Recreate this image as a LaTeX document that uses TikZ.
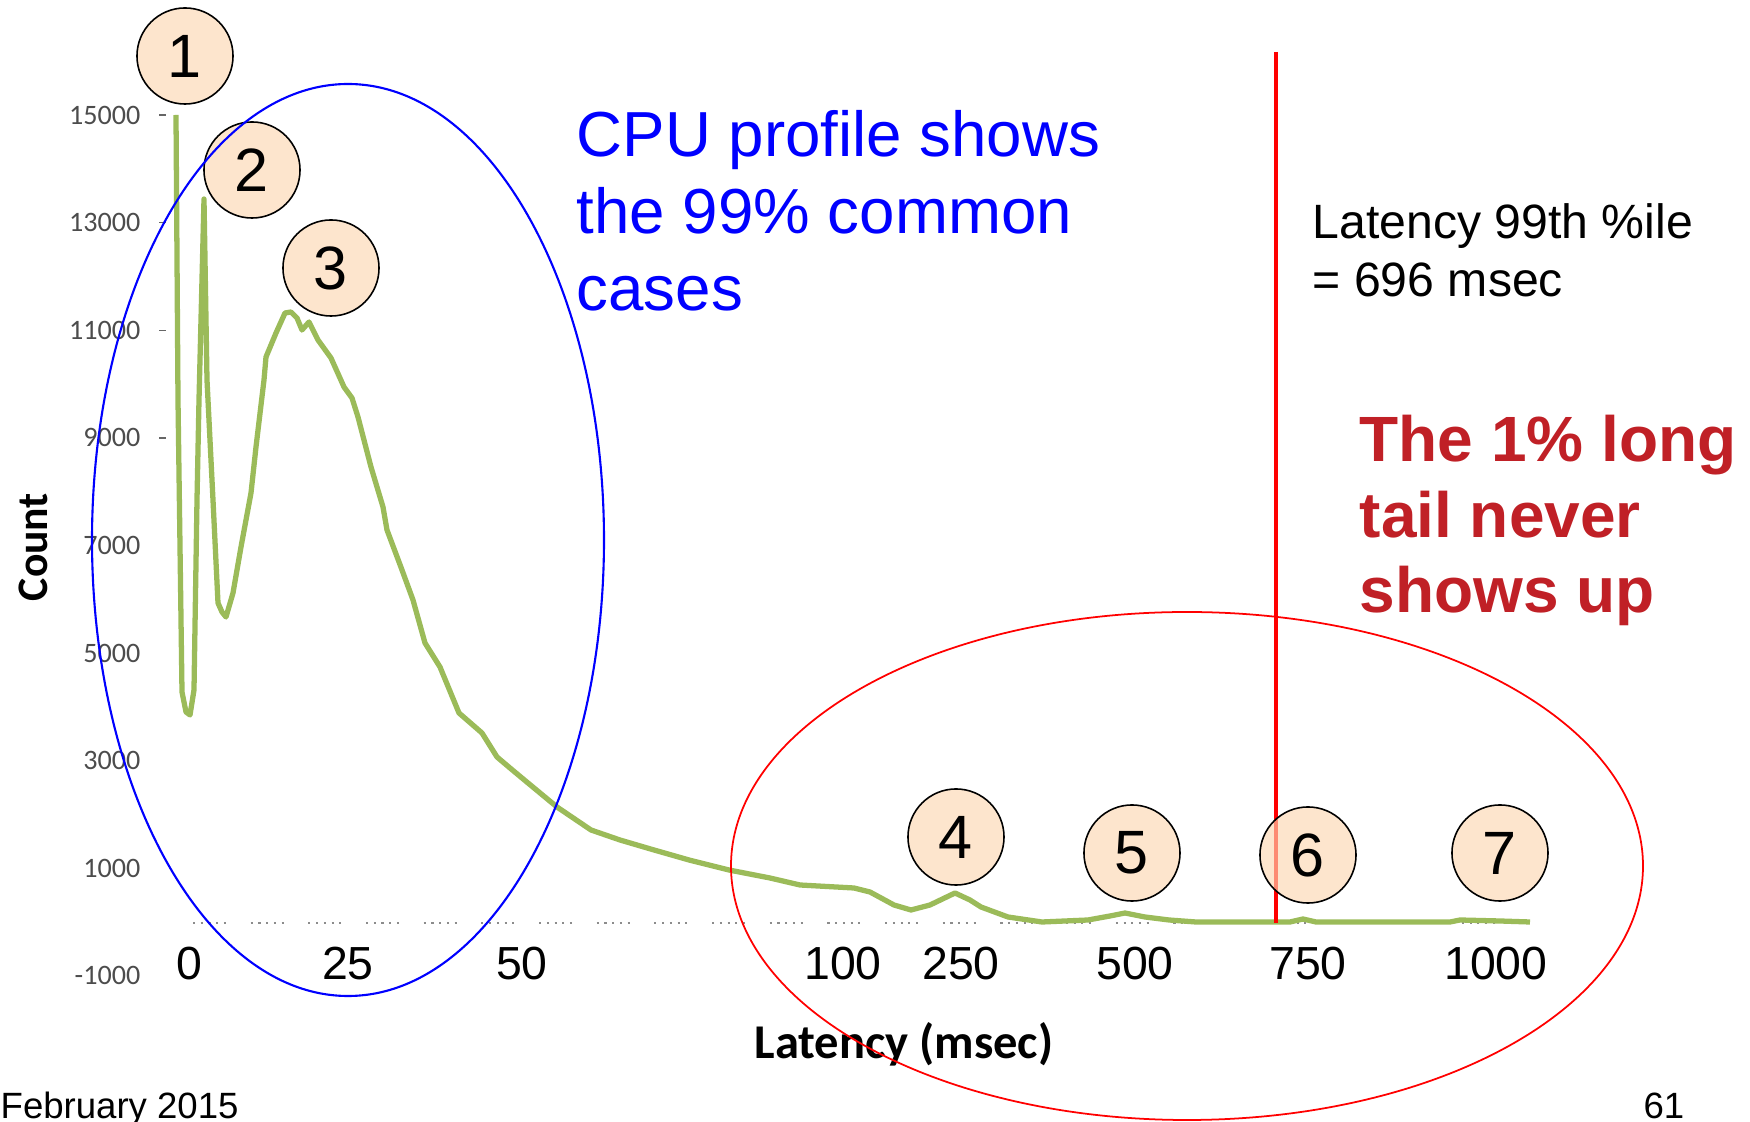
\documentclass[tikz,border=0pt]{standalone}
\usepackage{fontspec}
\setmainfont{Liberation Sans}
\newfontfamily\calibri{Carlito}
\definecolor{plotgreen}{RGB}{155,187,89}
\definecolor{bubblefill}{RGB}{252,215,178}
\definecolor{taildark}{RGB}{192,32,38}

\begin{document}
\begin{tikzpicture}[x=0.01cm, y=-0.01cm,
  bubble/.style={circle, draw=black, line width=0.45pt, fill=bubblefill, fill opacity=0.65, text opacity=1,
    minimum size=0.96cm, inner sep=0pt, font=\fontsize{17.4}{20}\selectfont},
  xlab/.style={anchor=base, font=\fontsize{13.2}{15}\selectfont},
  ylab/.style={anchor=east, inner sep=0pt, text=black!70, font=\calibri\fontsize{8}{9}\selectfont},
  zeroline/.style={black!45, line width=0.5pt,
    dash pattern=on 0.6pt off 1.6pt on 0.6pt off 1.6pt on 0.6pt off 1.6pt on 0.6pt off 1.6pt on 0.6pt off 7pt}]
\useasboundingbox (0,0) rectangle (1750,1122);

% y axis labels and ticks
\foreach \c in {-1000,1000,3000,5000,7000,9000,11000,13000,15000}
    \node[ylab] (ylab\c) at (141, {922-0.05379*\c}) {\c};
\foreach \c in {9000,11000,13000,15000}
    \draw[black!60, line width=0.4pt] (159,{922-0.05379*\c}) -- (166,{922-0.05379*\c});
\node[rotate=90, font=\calibri\bfseries\fontsize{12.4}{14}\selectfont] (countlab) at (33,547) {Count};

% x axis
\draw[zeroline] (193,923) -- (1530,923);
\foreach \xpos/\xtext in {189/0, 348/25, 522/50, 843/100, 961/250, 1135/500, 1308/750, 1496/1000}
    \node[xlab] (xlab\xtext) at (\xpos,980) {\xtext};
\node[anchor=base, font=\calibri\bfseries\fontsize{13.8}{16}\selectfont] (xtitle) at (904,1059) {Latency (msec)};

% latency histogram
\draw[plotgreen, line width=1.5pt, line join=round] plot coordinates {
  (176,115) (178,400) (182,692) (186,712) (190,715) (194,690) (197,500) (199,400) (204,199)
  (207,380) (213,500) (218,603) (222,612) (226,617) (233,593) (241,547) (251,493) (256,447)
  (264,380) (266,357) (276,333) (285,313) (291,312) (297,318) (302,330) (309,322) (318,340)
  (331,358) (344,387) (352,398) (358,417) (371,467) (383,507) (387,530) (402,570) (413,600)
  (425,643) (440,667) (459,713) (482,733) (497,757) (510,768) (528,783) (557,807) (591,830)
  (620,840) (654,850) (689,860) (729,870) (770,878) (800,885) (854,888) (870,892) (894,905)
  (911,910) (930,905) (955,893) (970,900) (981,907) (1008,917) (1042,922) (1088,920) (1110,916)
  (1125,913) (1145,917) (1169,920) (1196,922) (1290,922) (1303,919) (1316,922) (1450,922)
  (1460,920) (1500,921) (1530,922)};

% common cases
\foreach \n/\bx/\by in {1/185/56, 2/252/170, 3/331/268}
    \node[bubble] (bubble\n) at (\bx,\by) {\n};
\draw[blue, line width=0.6pt] (348,540) ellipse [x radius=256, y radius=456];
\node[anchor=north west, inner sep=0pt, align=left, text=blue, font=\fontsize{18.1}{21.9}\selectfont]
    (cpunote) at (576,110) {CPU profile shows\\the 99\% common\\cases};

% 99th percentile cut and long tail
\coordinate (cuttop) at (1276,52);
\coordinate (cutbot) at (1276,923);
\draw[red, line width=1.1pt] (cuttop) -- (cutbot);
\foreach \n/\bx/\by in {4/956/837, 5/1132/853, 6/1308/855, 7/1500/853}
    \node[bubble] (bubble\n) at (\bx,\by) {\n};
\draw[red, line width=0.5pt] (1187,866) ellipse [x radius=456, y radius=254];
\node[anchor=north west, inner sep=0pt, align=left, font=\fontsize{13.7}{16.5}\selectfont]
    (pctnote) at (1312,203) {Latency 99th \%ile\\= 696 msec};
\node[anchor=north west, inner sep=0pt, align=left, text=taildark, font=\bfseries\fontsize{18.2}{21.6}\selectfont]
    (tailnote) at (1359,414) {The 1\% long\\tail never\\shows up};

% footer
\node[anchor=base west, inner sep=0pt, font=\fontsize{10.4}{12}\selectfont] (datelab) at (0,1119) {February 2015};
\node[anchor=base east, inner sep=0pt, font=\fontsize{10.4}{12}\selectfont] (pagelab) at (1685,1119) {61};
\end{tikzpicture}
\end{document}
